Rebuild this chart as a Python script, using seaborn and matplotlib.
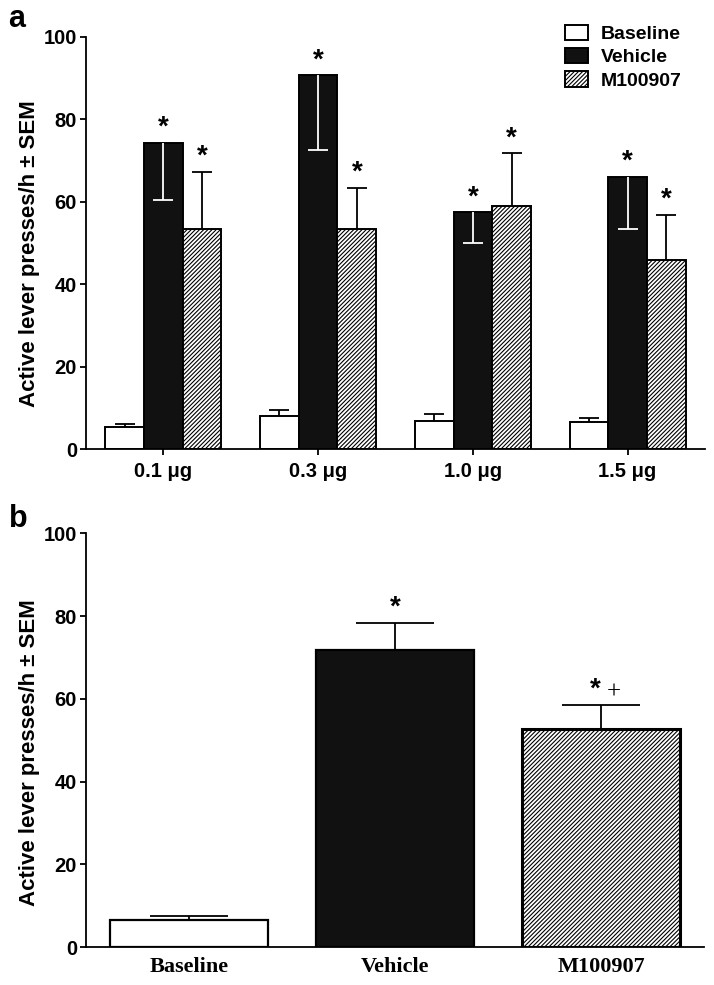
import pandas as pd
import seaborn as sns
import matplotlib.pyplot as plt

# panel a: dose groups
doses = ['0.1 μg', '0.3 μg', '1.0 μg', '1.5 μg']
groups = ['Baseline', 'Vehicle', 'M100907']
baseline_mean = [5.4, 8.1, 6.9, 6.5]
baseline_sem = [0.7, 1.3, 1.6, 1.0]
vehicle_mean = [74.2, 90.6, 57.4, 66.0]
vehicle_sem = [13.9, 18.1, 7.3, 12.6]
m100907_mean = [53.3, 53.3, 58.9, 45.8]
m100907_sem = [13.8, 10.0, 12.8, 11.0]

# panel b: pooled
pooled_mean = [6.7, 71.8, 52.7]
pooled_sem = [0.8, 6.6, 5.8]

sns.set_style('ticks')
plt.rcParams['font.family'] = ['Liberation Sans', 'DejaVu Sans']
plt.rcParams['hatch.linewidth'] = 0.8
plt.rcParams['axes.linewidth'] = 1.3
for k in ['text.color', 'axes.labelcolor', 'xtick.color', 'ytick.color', 'axes.edgecolor']:
    plt.rcParams[k] = 'black'

colors = {'Baseline': 'white', 'Vehicle': '#111111', 'M100907': 'white'}
ylab = 'Active lever presses/h ± SEM'
HATCH = '////////'

df_a = pd.DataFrame({
    'dose': doses * 3,
    'group': [g for g in groups for _ in doses],
    'presses': baseline_mean + vehicle_mean + m100907_mean,
})
sems_a = {'Baseline': baseline_sem, 'Vehicle': vehicle_sem, 'M100907': m100907_sem}

fig = plt.figure(figsize=(7.14, 9.85), dpi=100)
ax_a = fig.add_axes([0.1204, 0.5439, 0.867, 0.4189])
ax_b = fig.add_axes([0.1204, 0.0383, 0.8655, 0.4203])


def sem_bar(ax, x, top, sem, down, color, capsize, z):
    # one-sided error bar, cap only on the far end
    yerr = [[sem], [0]] if down else [[0], [sem]]
    eb = ax.errorbar(x, top, yerr=yerr, fmt='none', ecolor=color, elinewidth=1.3,
                     capsize=capsize, capthick=1.3, zorder=z)
    caps = eb[1]
    caps[1 if down else 0].set_visible(False)


def star(ax, x, y, dx=0):
    ax.annotate('*', (x, y), xytext=(dx, 11), textcoords='offset points',
                ha='center', va='center', fontsize=20, fontweight='bold')


# ---- panel a ----
sns.barplot(data=df_a, x='dose', y='presses', hue='group', hue_order=groups,
            order=doses, palette=colors, saturation=1, width=0.75,
            edgecolor='black', linewidth=1.4, errorbar=None, legend=False, ax=ax_a)

for cont, g in zip(ax_a.containers, groups):
    for patch, sem in zip(cont.patches, sems_a[g]):
        x = patch.get_x() + patch.get_width() / 2
        top = patch.get_height()
        if g == 'M100907':
            patch.set_hatch(HATCH)
        if g == 'Vehicle':
            sem_bar(ax_a, x, top, sem, True, 'white', 7.2, 5)
            star(ax_a, x, top)
        else:
            sem_bar(ax_a, x, top, sem, False, 'black', 7.2, 1)
            if g == 'M100907':
                star(ax_a, x, top + sem)

ax_a.set_ylim(0, 100)
ax_a.set_xlim(-0.5, 3.5)
ax_a.set_yticks([0, 20, 40, 60, 80, 100])
ax_a.set_xlabel('')
ax_a.set_ylabel(ylab, fontsize=16, fontweight='bold')
ax_a.yaxis.set_label_coords(-0.074, 0.475)
ax_a.tick_params(axis='y', length=4.5, width=1.3, pad=2, labelsize=14.5)
ax_a.tick_params(axis='x', length=4.5, width=1.3, pad=5, labelsize=14.5)
for lbl in ax_a.get_xticklabels() + ax_a.get_yticklabels():
    lbl.set_fontweight('bold')
sns.despine(ax=ax_a)

ax_a.legend(ax_a.containers, groups, loc='upper left',
            bbox_to_anchor=(0.791, 0.975), bbox_transform=fig.transFigure,
            frameon=False, prop={'weight': 'bold', 'size': 14},
            handlelength=1.2, handleheight=0.85, handletextpad=0.65,
            labelspacing=0.25, borderpad=0, borderaxespad=0)

# ---- panel b ----
sns.barplot(x=groups, y=pooled_mean, hue=groups, palette=colors, saturation=1,
            width=0.77, edgecolor='black', linewidth=1.6, errorbar=None,
            legend=False, ax=ax_b)

bars = sorted(ax_b.patches, key=lambda p: p.get_x())
for patch, g, sem in zip(bars, groups, pooled_sem):
    x = patch.get_x() + patch.get_width() / 2
    top = patch.get_height()
    if g == 'M100907':
        patch.set_hatch(HATCH)
        patch.set_linewidth(2.2)
    sem_bar(ax_b, x, top, sem, False, 'black', 28, 1)
    if g == 'Vehicle':
        star(ax_b, x, top + sem)
    if g == 'M100907':
        star(ax_b, x, top + sem, dx=-4.3)
        ax_b.annotate('+', (x, top + sem), xytext=(9.4, 9), textcoords='offset points',
                      ha='center', va='center', fontsize=18, family='Liberation Serif')

ax_b.set_ylim(0, 100)
ax_b.set_xlim(-0.5, 2.5)
ax_b.set_yticks([0, 20, 40, 60, 80, 100])
ax_b.set_ylabel(ylab, fontsize=16, fontweight='bold')
ax_b.yaxis.set_label_coords(-0.074, 0.469)
ax_b.tick_params(axis='y', length=4.5, width=1.3, pad=2)
ax_b.tick_params(axis='x', length=0, pad=7)
for lbl in ax_b.get_yticklabels():
    lbl.set_fontweight('bold')
    lbl.set_fontsize(14.5)
    lbl.set_family(['Liberation Sans Narrow', 'Liberation Sans'])
for lbl in ax_b.get_xticklabels():
    lbl.set_fontweight('bold')
    lbl.set_fontsize(16)
    lbl.set_family(['Liberation Serif', 'DejaVu Serif'])
sns.despine(ax=ax_b)

fig.text(8 / 714, 1 - 27 / 985, 'a', fontsize=22, fontweight='bold', va='baseline')
fig.text(9 / 714, 1 - 527 / 985, 'b', fontsize=22, fontweight='bold', va='baseline')

fig.savefig('out.png', dpi=100)
